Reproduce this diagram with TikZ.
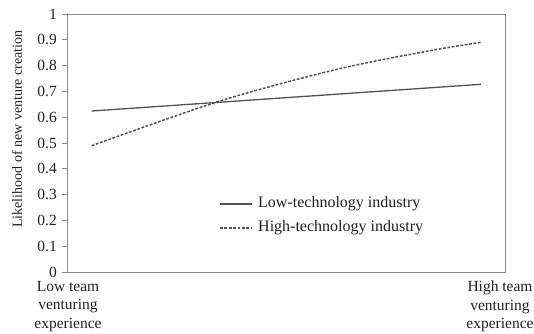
\documentclass[tikz,border=0pt]{standalone}
\usepackage{fontspec}
\setmainfont{Liberation Serif}

\begin{document}
\begin{tikzpicture}[x=1pt,y=1pt,
    axisline/.style={draw=black!45,line width=0.9pt},
    dataline/.style={draw=black!68,line width=1.3pt},
    dashline/.style={dataline,line width=1.5pt,dash pattern=on 2.8pt off 1.6pt},
    txt/.style={text=black!88,font=\fontsize{15.5}{18.5}\selectfont,inner sep=0pt}]
      \useasboundingbox (0,0) rectangle (534,333);

      \coordinate (o) at (67,61);
      \coordinate (tr) at (505,319);

      \draw[axisline] (o) rectangle (tr);
      \foreach \v/\lab in {0/0,1/0.1,2/0.2,3/0.3,4/0.4,5/0.5,6/0.6,7/0.7,8/0.8,9/0.9,10/1} {
        \draw[axisline] (62,61+25.8*\v) -- (67,61+25.8*\v);
        \node [txt,anchor=east] (tick\v) at (57,61+25.8*\v) {\lab};
      }

      \node [txt,rotate=90,font=\fontsize{14}{17}\selectfont] (ylab) at (17,204) {Likelihood of new venture creation};

      \node [txt,align=center,anchor=north] (lowexp) at (68,52) {Low team\\venturing\\experience};
      \node [txt,align=center,anchor=north] (highexp) at (500,52) {High team\\venturing\\experience};

      % low-technology
      \coordinate (l0) at (91.7,222);
      \coordinate (l1) at (481,248.7);
      \draw[dataline] (l0) -- (l1);

      % high-technology
      \coordinate (h0) at (91.7,187.3);
      \coordinate (h1) at (220,232);
      \coordinate (h2) at (337,263.7);
      \coordinate (h3) at (430,282.3);
      \coordinate (h4) at (481,290.7);
      \draw[dashline] plot[smooth,tension=0.5] coordinates {(h0) (h1) (h2) (h3) (h4)};

      % legend
      \coordinate (ka) at (220,129);
      \coordinate (kb) at (252,129);
      \draw[dataline] (ka) -- (kb);
      \node [txt,anchor=west,font=\fontsize{16}{19}\selectfont] (lowkey) at (258,129) {Low-technology industry};
      \coordinate (kc) at (220,105);
      \coordinate (kd) at (252,105);
      \draw[dashline] (kc) -- (kd);
      \node [txt,anchor=west,font=\fontsize{16}{19}\selectfont] (highkey) at (258,105) {High-technology industry};
\end{tikzpicture}
\end{document}
